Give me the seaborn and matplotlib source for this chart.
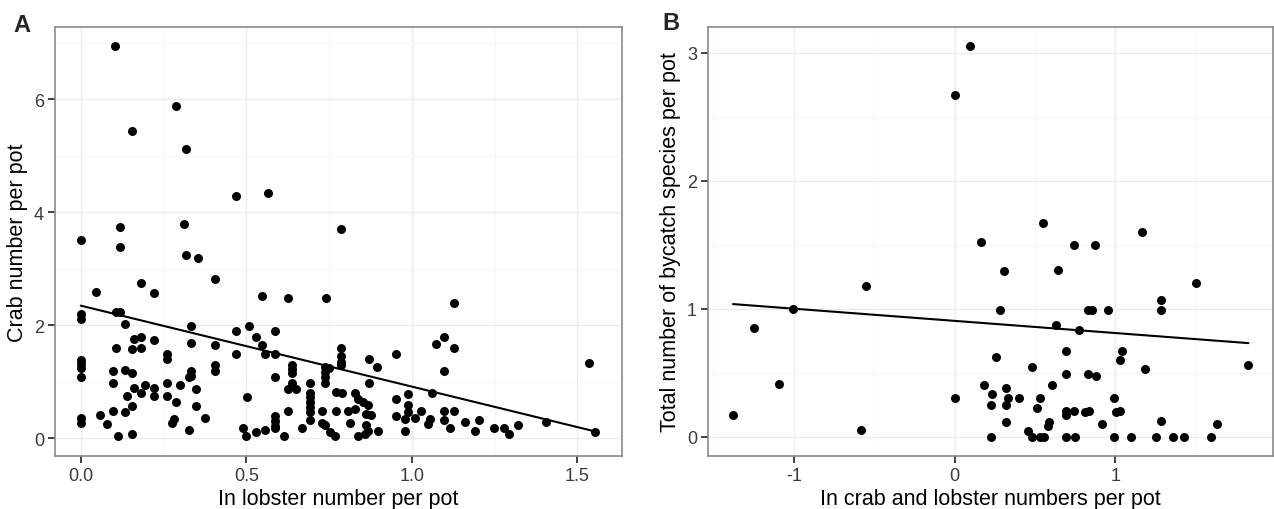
import matplotlib
matplotlib.use("Agg")
import matplotlib.pyplot as plt
import seaborn as sns
import pandas as pd
from matplotlib.ticker import MultipleLocator

# ---------------- Panel A data ----------------
lobster_x = [0.103, 0.288, 0.154, 0.318, 0.469, 0.565, 0.0, 0.117, 0.117, 0.311, 0.318, 0.354, 0.786,
             0.047, 0.181, 0.222, 0.405, 0.548, 0.626, 0.0, 0.0, 0.105, 0.117, 0.133, 0.334, 0.469, 0.508, 0.586,
             0.161, 0.181, 0.222, 0.334, 0.405, 0.530, 0.548, 0.105, 0.154, 0.181, 0.261, 0.261, 0.469, 0.557, 0.586,
             0.0, 0.0, 0.0, 0.0, 0.405, 0.405, 0.639, 0.639, 0.639, 0.096, 0.133, 0.154, 0.334, 0.334, 0.326, 0.586,
             0.096, 0.261, 0.299, 0.195, 0.161, 0.222, 0.222, 0.348, 0.626, 0.649, 0.639, 0.693, 0.181, 0.139, 0.261,
             0.288, 0.502, 0.154, 0.348, 0.096, 0.133, 0.058, 0.374, 0.0, 0.0, 0.078, 0.281, 0.276, 0.326, 0.111,
             0.154, 0.491, 0.5, 0.530, 0.557, 0.586, 0.586, 0.586, 0.586, 0.613, 0.626, 0.667,
             0.693, 0.693, 0.693, 0.693, 0.693, 0.693,
             0.741, 1.127, 0.786, 0.786, 0.786, 0.786, 0.871, 0.895, 0.953, 1.073, 1.096, 1.127, 1.096, 1.536,
             0.739, 0.739, 0.739, 0.739, 0.751, 0.871, 0.771, 0.788, 0.828, 0.838, 0.853, 0.868, 0.878, 0.863,
             0.953, 0.989, 0.989, 0.989, 1.062, 1.029, 0.728, 0.771, 0.808, 0.828, 0.953, 0.980, 1.009, 1.054,
             1.049, 1.096, 1.096, 1.127, 1.160, 1.202, 1.116, 1.190, 1.248, 1.277, 1.295, 1.320, 1.406, 1.554,
             0.728, 0.738, 0.753, 0.768, 0.813, 0.863, 0.868, 0.858, 0.838, 0.899, 0.979]
crab_y = [6.95, 5.89, 5.44, 5.12, 4.29, 4.34, 3.51, 3.75, 3.38, 3.79, 3.25, 3.19, 3.70,
          2.60, 2.75, 2.57, 2.82, 2.52, 2.49, 2.20, 2.12, 2.23, 2.24, 2.02, 1.99, 1.90, 1.99, 1.90,
          1.76, 1.79, 1.74, 1.69, 1.65, 1.79, 1.66, 1.60, 1.58, 1.60, 1.50, 1.40, 1.49, 1.49, 1.49,
          1.39, 1.31, 1.25, 1.09, 1.30, 1.20, 1.30, 1.23, 1.16, 1.20, 1.21, 1.16, 1.20, 1.11, 1.09, 1.09,
          0.99, 0.99, 0.94, 0.94, 0.89, 0.89, 0.75, 0.87, 0.87, 0.87, 0.99, 0.99, 0.80, 0.75, 0.75,
          0.65, 0.74, 0.58, 0.58, 0.49, 0.46, 0.42, 0.36, 0.36, 0.28, 0.25, 0.34, 0.27, 0.15, 0.04,
          0.08, 0.18, 0.04, 0.11, 0.15, 0.40, 0.31, 0.22, 0.18, 0.04, 0.49, 0.18,
          0.81, 0.73, 0.64, 0.55, 0.46, 0.33,
          2.49, 2.39, 1.60, 1.46, 1.36, 1.30, 1.40, 1.27, 1.49, 1.68, 1.80, 1.60, 1.19, 1.33,
          1.26, 1.17, 1.08, 0.99, 1.24, 0.99, 0.82, 0.80, 0.80, 0.70, 0.64, 0.59, 0.42, 0.43,
          0.70, 0.78, 0.59, 0.46, 0.80, 0.49, 0.49, 0.49, 0.49, 0.53, 0.40, 0.34, 0.37, 0.34,
          0.25, 0.49, 0.33, 0.49, 0.29, 0.33, 0.18, 0.13, 0.18, 0.18, 0.08, 0.24, 0.29, 0.12,
          0.28, 0.24, 0.12, 0.04, 0.27, 0.24, 0.13, 0.08, 0.04, 0.13, 0.13]
fitA_x = [0.0, 1.557]
fitA_y = [2.35, 0.12]

# ---------------- Panel B data ----------------
crablob_x = [0.098, 0.0, 0.164, 0.548, 0.743, 0.877, 1.166,
             -0.551, -1.006, -1.248, -1.093, -1.379, -0.585,
             0.311, 0.643, 1.504, 1.284, 1.284, 0.286, 0.830, 0.859, 0.958, 0.633, 0.778, 1.83,
             0.259, 0.693, 1.042, 1.031, 0.484, 1.187, 0.693, 0.830, 0.880, 0.185, 0.608, 0.320,
             0.236, 0.336, 0.320, 0.404, 0.533, 0.0, 0.994, 0.226, 0.513, 0.695, 0.695, 0.745,
             0.813, 0.840, 1.004, 1.031, 0.320, 0.591, 0.585, 0.921, 1.284, 1.633,
             0.457, 0.485, 0.533, 0.560, 0.226, 0.695, 0.751, 0.994, 1.098, 1.255, 1.359, 1.429, 1.596]
bycatch_y = [3.05, 2.67, 1.52, 1.67, 1.50, 1.50, 1.60,
             1.18, 1.00, 0.85, 0.41, 0.17, 0.05,
             1.29, 1.30, 1.20, 1.07, 0.99, 0.99, 0.99, 0.99, 0.99, 0.87, 0.83, 0.56,
             0.62, 0.67, 0.67, 0.60, 0.54, 0.53, 0.49, 0.49, 0.47, 0.40, 0.40, 0.38,
             0.33, 0.30, 0.25, 0.30, 0.30, 0.30, 0.30, 0.25, 0.22, 0.20, 0.17, 0.20,
             0.19, 0.20, 0.19, 0.20, 0.11, 0.11, 0.08, 0.10, 0.12, 0.10,
             0.04, 0.0, 0.0, 0.0, 0.0, 0.0, 0.0, 0.0, 0.0, 0.0, 0.0, 0.0, 0.0]
fitB_x = [-1.379, 1.83]
fitB_y = [1.035, 0.73]

dfA = pd.DataFrame({"x": lobster_x, "y": crab_y})
dfB = pd.DataFrame({"x": crablob_x, "y": bycatch_y})
fA = pd.DataFrame({"x": fitA_x, "y": fitA_y})
fB = pd.DataFrame({"x": fitB_x, "y": fitB_y})

sns.set_theme(style="white")
plt.rcParams['font.family'] = ['Liberation Sans', 'DejaVu Sans']
plt.rcParams['axes.unicode_minus'] = False

fig = plt.figure(figsize=(12.74, 5.10), dpi=100)
axA = fig.add_axes([55/1274, 53/510, 567/1274, 429/510])
axB = fig.add_axes([708/1274, 53/510, 565/1274, 429/510])


def style(ax, xmaj, xmin, ymaj, ymin, xlim, ylim, xfmt):
    ax.set_xlim(*xlim)
    ax.set_ylim(*ylim)
    ax.xaxis.set_major_locator(MultipleLocator(xmaj))
    ax.xaxis.set_minor_locator(MultipleLocator(xmin))
    ax.yaxis.set_major_locator(MultipleLocator(ymaj))
    ax.yaxis.set_minor_locator(MultipleLocator(ymin))
    if xfmt:
        ax.xaxis.set_major_formatter(matplotlib.ticker.FormatStrFormatter(xfmt))
    ax.grid(True, which="major", color="#ebebeb", linewidth=1.0)
    ax.grid(True, which="minor", color="#f6f6f6", linewidth=0.8)
    ax.set_axisbelow(True)
    for s in ax.spines.values():
        s.set_visible(True)
        s.set_color("#8a8a8a")
        s.set_linewidth(1.2)
    ax.tick_params(axis="both", which="major", direction="out", length=5, width=1.3,
                   color="#333333", labelsize=13, labelcolor="#3a3a3a", pad=3,
                   bottom=True, left=True)
    ax.tick_params(axis="both", which="minor", length=0)


sns.scatterplot(data=dfA, x="x", y="y", ax=axA, color="black", s=42, edgecolor="black",
                linewidth=0, legend=False)
sns.lineplot(data=fA, x="x", y="y", ax=axA, color="black", linewidth=1.5)
style(axA, 0.5, 0.25, 2, 1, (-0.078, 1.635), (-0.31, 7.28), "%.1f")
axA.set_xlabel("In lobster number per pot", fontsize=15.5, color="black", labelpad=3)
axA.set_ylabel("Crab number per pot", fontsize=15.5, color="black", labelpad=4)

sns.scatterplot(data=dfB, x="x", y="y", ax=axB, color="black", s=42, edgecolor="black",
                linewidth=0, legend=False)
sns.lineplot(data=fB, x="x", y="y", ax=axB, color="black", linewidth=1.5)
style(axB, 1, 0.5, 1, 0.5, (-1.535, 1.983), (-0.152, 3.2), None)
axB.set_xlabel("In crab and lobster numbers per pot", fontsize=15.5, color="black", labelpad=3)
axB.set_ylabel("Total number of bycatch species per pot", fontsize=15.5, color="black", labelpad=4)

fig.text(22/1274, 1 - 25/510, "A", fontsize=17, fontweight="bold", ha="center", va="center")
fig.text(671/1274, 1 - 24/510, "B", fontsize=17, fontweight="bold", ha="center", va="center")

fig.savefig("out.png", dpi=100)
